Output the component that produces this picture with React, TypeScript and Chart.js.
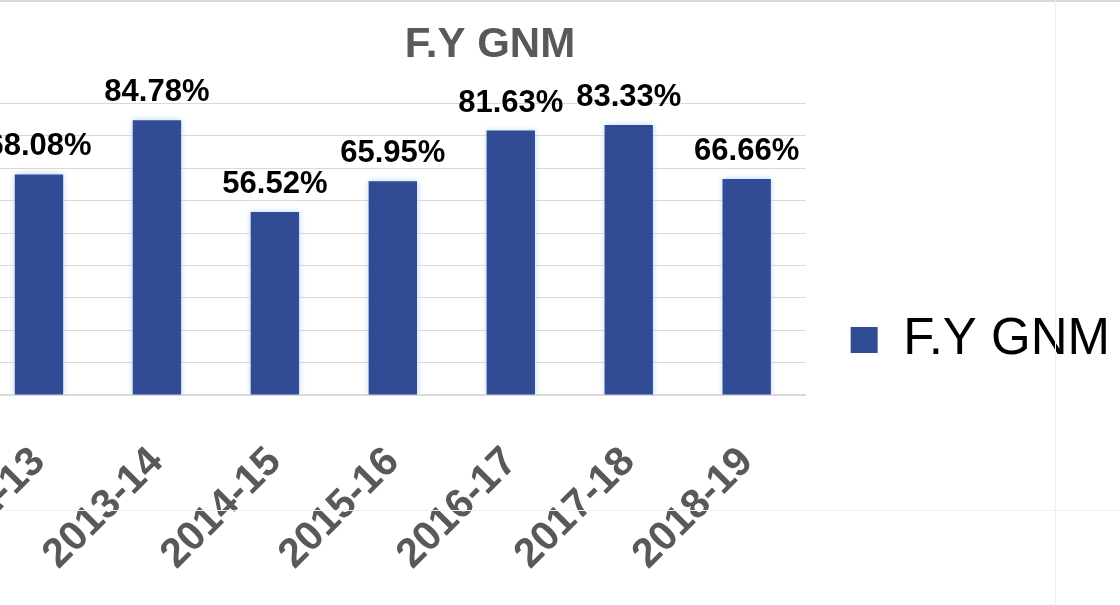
import { useEffect, useRef } from "react";
import { Chart, registerables } from "chart.js";

Chart.register(...registerables);

const categories = ["2012-13", "2013-14", "2014-15", "2015-16", "2016-17", "2017-18", "2018-19"];
const seriesName = "F.Y GNM";
const values = [68.08, 84.78, 56.52, 65.95, 81.63, 83.33, 66.66];
const yMin = 0;
const yMax = 90;
const yStep = 10;

const FONT = "'Liberation Sans', Arial, Helvetica, sans-serif";

const barGlow = {
  id: "barGlow",
  beforeDatasetDraw(chart: any) {
    const ctx = chart.ctx;
    ctx.save();
    ctx.shadowColor = "rgba(175,210,245,0.95)";
    ctx.shadowBlur = 6;
  },
  afterDatasetDraw(chart: any) {
    chart.ctx.restore();
  },
};

const valueLabels = {
  id: "valueLabels",
  afterDatasetsDraw(chart: any) {
    const ctx = chart.ctx;
    const meta = chart.getDatasetMeta(0);
    ctx.save();
    ctx.font = `bold 31px ${FONT}`;
    ctx.fillStyle = "#000000";
    ctx.textAlign = "center";
    ctx.textBaseline = "alphabetic";
    meta.data.forEach((bar: any, i: number) => {
      ctx.fillText(values[i].toFixed(2) + "%", bar.x, bar.y - 19);
    });
    ctx.restore();
  },
};

export default function App() {
  const ref = useRef<HTMLCanvasElement>(null);

  useEffect(() => {
    if (!ref.current) return;
    const chart = new Chart(ref.current, {
      type: "bar",
      data: {
        labels: categories,
        datasets: [
          {
            label: seriesName,
            data: values,
            backgroundColor: "#324b95",
            borderWidth: 0,
            barPercentage: 0.41,
            categoryPercentage: 1,
          },
        ],
      },
      options: {
        animation: false,
        responsive: false,
        layout: { padding: { left: 0, right: 3, top: 0, bottom: 0 } },
        plugins: {
          title: {
            display: true,
            text: "F.Y GNM",
            color: "#595959",
            font: { family: FONT, size: 42, weight: "bold" },
            padding: { top: 20, bottom: 33 },
          },
          legend: {
            position: "right",
            labels: {
              boxWidth: 27,
              boxHeight: 26,
              padding: 45,
              color: "#000000",
              font: { family: FONT, size: 51 },
            },
          },
          tooltip: { enabled: false },
        },
        scales: {
          x: {
            grid: { display: false, drawTicks: false },
            border: { color: "#d9d9d9", width: 2 },
            ticks: {
              color: "#595959",
              font: { family: FONT, size: 41, weight: "bold" },
              minRotation: 45,
              maxRotation: 45,
              padding: 43,
              autoSkip: false,
            },
            afterFit: (s: any) => {
              s.height = 285;
            },
          },
          y: {
            min: yMin,
            max: yMax,
            ticks: { stepSize: yStep, display: false },
            grid: { color: "#d9d9d9", lineWidth: 1, drawTicks: false },
            border: { display: false },
            afterFit: (s: any) => {
              s.width = 120;
            },
          },
        },
      } as any,
      plugins: [barGlow, valueLabels],
    });
    return () => chart.destroy();
  }, []);

  return (
    <div
      style={{
        position: "absolute",
        left: 0,
        top: 0,
        width: 1120,
        height: 605,
        overflow: "hidden",
        background: "#ffffff",
      }}
    >
      <canvas
        ref={ref}
        width={1263}
        height={680}
        style={{ position: "absolute", left: -140, top: 0, width: 1263, height: 680 }}
      />
      <div style={{ position: "absolute", left: 0, top: 0, width: 1120, height: 2, background: "#d9d9d9", pointerEvents: "none" }} />
      <div style={{ position: "absolute", left: 1055, top: 0, width: 1, height: 605, background: "#f0f0f0", pointerEvents: "none" }} />
      <div style={{ position: "absolute", left: 0, top: 510, width: 1120, height: 1, background: "#f0f0f0", pointerEvents: "none" }} />
    </div>
  );
}
